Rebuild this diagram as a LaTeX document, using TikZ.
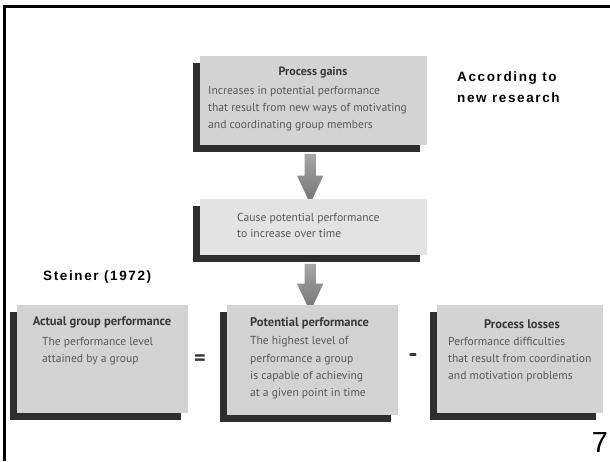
\documentclass[tikz,border=0pt]{standalone}
\usepackage{fontspec}
\setmainfont{PT Sans}
\newfontfamily\arialf{Liberation Sans}
\newfontfamily\arialsp[LetterSpace=12]{Liberation Sans}
\usetikzlibrary{shapes.arrows,shadows,calc}
\pgfdeclarelayer{bg}
\pgfsetlayers{bg,main}

\definecolor{boxgray}{HTML}{D3D3D3}
\definecolor{boxlight}{HTML}{E3E3E3}
\definecolor{shadowc}{HTML}{2E2E2E}
\definecolor{bodyc}{HTML}{585858}
\definecolor{titlec}{HTML}{383838}

\tikzset{
  panel/.style={rectangle, fill=boxgray, inner sep=0, anchor=north west,
    drop shadow={shadow xshift=-7pt, shadow yshift=-7pt, fill=shadowc, opacity=1}},
  lightpanel/.style={panel, fill=boxlight},
  bodytext/.style={inner sep=0, anchor=west, align=left, text=bodyc,
    font=\fontsize{11.6}{16.8}\selectfont},
  titletext/.style={inner sep=0, text=titlec, font=\bfseries\fontsize{12.5}{14}\selectfont},
  blockarrow/.style={single arrow, shape border rotate=270, inner sep=5.5pt,
    single arrow head extend=7.5pt, single arrow tip angle=50,
    top color=black!35, bottom color=black!55, draw=none},
  signtext/.style={inner sep=0, text=titlec, font=\bfseries\fontsize{22}{22}\selectfont},
  note/.style={inner sep=0, font=\arialsp\bfseries\fontsize{13.5}{21}\selectfont, align=left}
}

\begin{document}
\begin{tikzpicture}[x=1pt,y=-1pt]
\useasboundingbox (0,0) rectangle (610,461);
\begin{pgfonlayer}{bg}
\fill[white] (0,0) rectangle (610,461);
\end{pgfonlayer}
\draw[line width=3pt] (4.5,461) -- (4.5,6.5) -- (610,6.5);

% boxes
\node[panel, minimum width=227pt, minimum height=89pt] (gains) at (200,56) {};
\node[lightpanel, minimum width=227pt, minimum height=56pt] (cause) at (200,199) {};
\node[panel, minimum width=171pt, minimum height=108pt] (actual) at (17,305) {};
\node[panel, minimum width=171pt, minimum height=110pt] (potential) at (227,305) {};
\node[panel, minimum width=166pt, minimum height=108pt] (losses) at (437,305) {};

% arrows
\begin{pgfonlayer}{bg}
\node[blockarrow, minimum height=50pt] (a1) at ($(gains.south)!0.5!(cause.north)+(-3.5,0.5)$) {};
\node[blockarrow, minimum height=48pt] (a2) at ($(cause.south)!0.5!(potential.north)+(-3,1.5)$) {};
\end{pgfonlayer}

% texts
\node[titletext, font=\bfseries\fontsize{12}{14}\selectfont] (gainsT) at (313,73) {Process gains};
\node[bodytext] (gainsB) at (208,108.5) {Increases in potential performance\\that result from new ways of motivating\\and coordinating group members};

\node[bodytext, font=\fontsize{11.6}{16}\selectfont] (causeB) at (237,225) {Cause potential performance\\to increase over time};

\node[titletext] (actualT) at (102,322) {Actual group performance};
\node[bodytext] (actualB) at (42,351.5) {The performance level\\attained by a group};

\node[titletext, anchor=west] (potentialT) at (250,323) {Potential performance};
\node[bodytext, font=\fontsize{11.6}{17.3}\selectfont] (potentialB) at (250,368) {The highest level of\\performance a group\\is capable of achieving\\at a given point in time};

\node[titletext] (lossesT) at (522,324) {Process losses};
\node[bodytext, font=\fontsize{11.6}{17}\selectfont] (lossesB) at (448,360) {Performance difficulties\\that result from coordination\\and motivation problems};

\node[signtext] (eq) at (200,360) {=};
\node[signtext, font=\bfseries\fontsize{26}{26}\selectfont] (minus) at (413,358) {-};

\node[note, anchor=west] (research) at (457,87.5) {According to\\new research};
\node[note, anchor=west] (steiner) at (43,277) {Steiner (1972)};
\node[inner sep=0, font=\arialf\fontsize{29}{30}\selectfont] (pagenum) at (600,443) {7};
\end{tikzpicture}
\end{document}
